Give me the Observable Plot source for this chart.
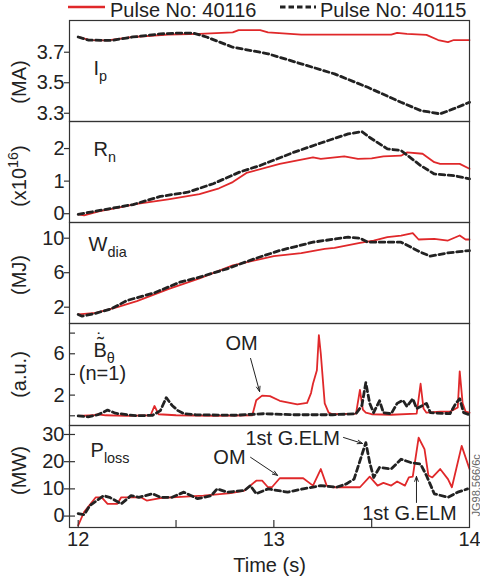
<!DOCTYPE html>
<html>
<head>
<meta charset="utf-8">
<script src="https://cdn.jsdelivr.net/npm/d3@7"></script>
<script src="https://cdn.jsdelivr.net/npm/@observablehq/plot@0.6"></script>
<style>
  body { margin: 0; background: #fff; }
  #wrap { width: 480px; font-family: "Liberation Sans", Arial, Helvetica, sans-serif; }
  #legend { position: relative; width: 480px; height: 20px; overflow: hidden; }
  #legend span { position: absolute; top: 0; font-size: 20px; line-height: 20px; color: #222; white-space: nowrap; }
  #legend svg { position: absolute; top: 0; left: 0; }
  svg.panel { display: block; overflow: visible; }
</style>
</head>
<body>
<div id="wrap">
  <div id="legend"></div>
  <div id="charts"></div>
</div>
<script>
// ---------------- data ----------------
const pulses = ["40116", "40115"];
const seriesColors = ["#e0282a", "#222222"];
const xTickLabels = [12, 13, 14];
const xMinorTicks = [12, 12.5, 13, 13.5];
const xLabel = "Time (s)";

// Plasma current Ip (MA)
const ip40116 = [[12.0,3.80],[12.06,3.78],[12.15,3.778],[12.28,3.80],[12.46,3.815],[12.62,3.82],[12.79,3.83],[12.82,3.845],[12.93,3.845],[12.97,3.83],[13.14,3.815],[13.60,3.815],[13.63,3.827],[13.68,3.82],[13.78,3.814],[13.84,3.78],[13.89,3.766],[13.92,3.78],[14.0,3.78]];
const ip40115 = [[12.0,3.80],[12.05,3.78],[12.17,3.777],[12.28,3.80],[12.42,3.82],[12.5,3.825],[12.59,3.825],[12.66,3.798],[12.79,3.733],[12.97,3.69],[13.14,3.624],[13.31,3.558],[13.48,3.47],[13.65,3.372],[13.75,3.318],[13.85,3.296],[13.92,3.33],[14.0,3.372]];
const ipTicks = [3.3, 3.5, 3.7];

// Neutron rate Rn (x10^16)
const rn40116 = [[12.0,-0.02],[12.03,-0.05],[12.11,0.08],[12.2,0.18],[12.3,0.3],[12.46,0.44],[12.62,0.6],[12.72,0.78],[12.79,0.97],[12.86,1.25],[13.03,1.53],[13.20,1.73],[13.24,1.68],[13.36,1.76],[13.43,1.68],[13.50,1.70],[13.56,1.76],[13.65,1.78],[13.68,1.88],[13.76,1.84],[13.82,1.58],[13.85,1.53],[13.95,1.53],[14.0,1.38]];
const rn40115 = [[12.0,-0.02],[12.11,0.1],[12.28,0.28],[12.42,0.53],[12.56,0.66],[12.69,0.92],[12.83,1.29],[12.93,1.48],[13.10,1.88],[13.24,2.17],[13.38,2.45],[13.45,2.52],[13.49,2.34],[13.58,1.99],[13.65,1.94],[13.75,1.48],[13.82,1.22],[13.92,1.17],[14.0,1.07]];
const rnTicks = [0, 1, 2];

// Diamagnetic energy Wdia (MJ)
const w40116 = [[12.0,1.16],[12.09,1.35],[12.2,2.0],[12.3,2.7],[12.46,4.1],[12.62,5.35],[12.79,6.84],[13.0,7.92],[13.14,8.27],[13.26,8.77],[13.31,8.88],[13.44,9.46],[13.51,9.73],[13.58,10.12],[13.65,10.31],[13.71,10.58],[13.74,9.85],[13.82,9.92],[13.89,9.73],[13.95,10.31],[13.98,9.85],[14.0,9.85]];
const w40115 = [[12.0,1.16],[12.02,0.96],[12.08,1.24],[12.17,1.82],[12.25,2.78],[12.39,3.67],[12.52,4.9],[12.62,5.48],[12.76,6.45],[12.90,7.61],[13.03,8.57],[13.20,9.54],[13.38,10.12],[13.44,10.0],[13.48,9.54],[13.65,9.54],[13.75,8.38],[13.80,7.91],[13.89,8.3],[14.0,8.57]];
const wTicks = [2, 6, 10];

// n=1 magnetic signal (a.u.)
const b40116 = [[12.0,0.0],[12.08,0.05],[12.1,0.15],[12.14,0.05],[12.25,0.0],[12.37,0.05],[12.39,0.95],[12.41,0.15],[12.5,0.05],[12.7,0.0],[12.89,0.05],[12.91,1.5],[12.94,1.95],[12.98,1.9],[13.03,1.45],[13.12,1.1],[13.17,1.25],[13.19,2.2],[13.20,3.1],[13.22,4.4],[13.23,7.8],[13.24,6.0],[13.26,1.2],[13.28,0.3],[13.30,0.15],[13.42,0.2],[13.44,2.5],[13.455,0.6],[13.47,0.3],[13.5,0.15],[13.6,0.1],[13.73,0.2],[13.75,3.1],[13.765,0.7],[13.78,0.3],[13.85,0.4],[13.9,0.4],[13.94,0.8],[13.95,4.3],[13.965,1.2],[13.98,0.4],[14.0,0.3]];
const b40115 = [[12.0,0.0],[12.05,-0.1],[12.1,0.1],[12.15,0.55],[12.19,0.25],[12.25,0.1],[12.3,0.0],[12.38,0.05],[12.42,0.5],[12.45,1.75],[12.48,1.0],[12.51,0.5],[12.54,0.2],[12.6,0.1],[12.8,0.05],[12.95,0.2],[13.1,0.1],[13.3,0.1],[13.42,0.2],[13.45,1.0],[13.47,3.2],[13.49,1.2],[13.51,0.3],[13.54,1.45],[13.56,0.3],[13.6,0.2],[13.63,1.2],[13.66,1.5],[13.68,0.9],[13.71,1.65],[13.73,0.7],[13.78,1.2],[13.8,0.3],[13.9,0.2],[13.93,1.2],[13.95,1.65],[13.97,0.3],[14.0,0.1]];
const bTicks = [2, 6];
const bMinorTicks = [0, 4, 8];

// Loss power Ploss (MW)
const pl40116 = [[12.0,-3.4],[12.03,1.5],[12.09,6.9],[12.12,6.9],[12.15,4.5],[12.2,4.5],[12.22,6.9],[12.32,6.9],[12.35,5.7],[12.42,6.6],[12.48,6.9],[12.64,7.5],[12.78,8.4],[12.85,9.4],[12.91,13.0],[12.94,13.0],[12.97,10.6],[12.99,10.6],[13.03,13.9],[13.15,13.9],[13.20,11.2],[13.24,17.3],[13.27,11.2],[13.30,10.6],[13.44,10.6],[13.49,14.5],[13.53,11.2],[13.56,12.2],[13.60,11.2],[13.63,12.7],[13.67,11.2],[13.69,14.2],[13.71,14.5],[13.74,28.8],[13.77,24.6],[13.79,14.9],[13.81,14.2],[13.85,17.3],[13.89,13.6],[13.91,10.6],[13.96,25.8],[14.0,17.3]];
const pl40115 = [[12.0,0.9],[12.03,0.5],[12.06,3.9],[12.13,7.5],[12.16,6.9],[12.22,4.5],[12.27,7.5],[12.31,6.9],[12.38,8.2],[12.42,6.9],[12.48,6.9],[12.54,8.8],[12.61,6.4],[12.68,7.5],[12.71,10.0],[12.76,8.8],[12.85,9.4],[12.88,11.2],[12.91,8.2],[12.97,10.0],[13.07,8.8],[13.15,10.0],[13.24,11.2],[13.32,10.6],[13.37,11.8],[13.41,13.6],[13.44,20.3],[13.47,27.0],[13.49,19.7],[13.51,14.2],[13.54,17.9],[13.60,17.3],[13.65,20.9],[13.70,19.7],[13.75,19.1],[13.78,14.9],[13.82,8.2],[13.89,6.9],[13.94,8.8],[13.99,10.0]];
const plTicks = [0, 10, 20, 30];

// panel titles (text, t, value) and unit labels
const panelNames = ["I_{p}", "R_{n}", "W_{dia}", "B_{θ}", "P_{loss}"];
const panelNamePos = [[12.078, 3.596], [12.078, 1.98], [12.053, 9.27], [12.078, 6.27], [12.063, 24.0]];
const unitLabels = ["(MA)", "(x10^{16})", "(MJ)", "(a.u.)", "(MW)"];
const modeLabel = "(n=1)";
const modeLabelPos = [12.124, 4.09];

// annotations: [text, tText, vText, t1, v1, t2, v2]
const annB = [["OM", 12.835, 7.0, 12.881, 5.55, 12.927, 2.35]];
const annP = [
  ["1st G.ELM", 13.096, 28.6, 13.356, 28.9, 13.453, 26.7],
  ["OM", 12.773, 21.6, 12.881, 21.6, 13.019, 14.96],
  ["1st G.ELM", 13.693, 1.0, 13.729, 5.0, 13.729, 14.6]
];
const figId = "JG98.566/6c";
const figIdPos = [14.036, 11.3];

// ---------------- layout ----------------
const W = 480, ML = 69, MR = 11;
const xDomain = [11.9555, 14];
const FONT = '"Liberation Sans", Arial, Helvetica, sans-serif';
const RED = seriesColors[0], BLACK = seriesColors[1];

function rich(svg) {
  d3.select(svg).selectAll("text").each(function () {
    const s = this.textContent;
    if (!/[_^]\{/.test(s)) return;
    const parts = s.split(/([_^]\{[^}]*\})/);
    const sel = d3.select(this);
    sel.text(null);
    let shift = 0;
    for (const p of parts) {
      if (!p) continue;
      const m = p.match(/^([_^])\{([^}]*)\}$/);
      if (m) {
        const dy = m[1] === "_" ? 6 : -8;
        sel.append("tspan").attr("dy", dy - shift).attr("font-size", "0.72em").text(m[2]);
        shift = dy;
      } else {
        sel.append("tspan").attr("dy", -shift).text(p);
        shift = 0;
      }
    }
  });
}

function lines(red, black) {
  return [
    Plot.line(red, {x: d => d[0], y: d => d[1], stroke: RED, strokeWidth: 1.8}),
    Plot.line(black, {x: d => d[0], y: d => d[1], stroke: BLACK, strokeWidth: 2.8, strokeDasharray: "5.5,3.5"})
  ];
}

function panel(i, {height, yDomain, ticks, tickInL, tickInR, red, black, extra = [], bottom = false, unitDy = 0}) {
  const frameW = W - ML - MR;
  const frameH = height;
  const marks = [
    ...lines(red, black),
    Plot.axisY(ticks, {tickSize: 0, tickPadding: 5, label: null, fill: "#222"}),
    Plot.ruleY(ticks, {y: d => d, insetLeft: tickInL, insetRight: frameW - tickInR, stroke: "#333", strokeWidth: 1.2}),
    Plot.text([panelNames[i]], {x: () => panelNamePos[i][0], y: () => panelNamePos[i][1], text: d => d, textAnchor: "start", lineAnchor: "middle", fill: "#222", fontSize: 20}),
    Plot.text([unitLabels[i]], {text: d => d, frameAnchor: "left", rotate: -90, dx: -50, dy: unitDy, textAnchor: "middle", lineAnchor: "middle", fill: "#222", fontSize: 20}),
    ...extra,
    Plot.frame({stroke: "#333", strokeWidth: 1.2})
  ];
  if (bottom) {
    marks.push(
      Plot.ruleX(xMinorTicks, {x: d => d, insetTop: frameH - 7, stroke: "#333", strokeWidth: 1.2}),
      Plot.axisX(xTickLabels, {tickSize: 0, tickPadding: 4, label: null, fill: "#222", tickFormat: d => String(d)}),
      Plot.text([xLabel], {text: d => d, frameAnchor: "bottom", dy: 38, lineAnchor: "middle", fill: "#222", fontSize: 20})
    );
  }
  const svg = Plot.plot({
    width: W,
    height: height + (bottom ? 57 : 0),
    marginLeft: ML, marginRight: MR, marginTop: 0, marginBottom: bottom ? 57 : 0,
    x: {domain: xDomain, ...(bottom ? {} : {axis: null})},
    y: {domain: yDomain},
    style: {fontFamily: FONT, fontSize: "20px", background: "white", overflow: "visible"},
    marks
  });
  svg.classList.add("panel");
  rich(svg);
  document.getElementById("charts").append(svg);
}

function annotations(list) {
  return [
    Plot.text(list, {x: d => d[1], y: d => d[2], text: d => d[0], textAnchor: "middle", lineAnchor: "middle", fill: "#222", fontSize: 20}),
    Plot.arrow(list, {x1: d => d[3], y1: d => d[4], x2: d => d[5], y2: d => d[6], stroke: "#222", strokeWidth: 1, headLength: 8, headAngle: 40})
  ];
}

// legend
(function () {
  const lg = d3.select("#legend");
  const s = lg.append("svg").attr("width", W).attr("height", 20);
  s.append("line").attr("x1", 68).attr("x2", 105).attr("y1", 7).attr("y2", 7).attr("stroke", RED).attr("stroke-width", 2.6);
  s.append("line").attr("x1", 280).attr("x2", 316).attr("y1", 7).attr("y2", 7).attr("stroke", BLACK).attr("stroke-width", 2.8).attr("stroke-dasharray", "5.5,3");
  lg.append("span").style("left", "110px").text("Pulse No: " + pulses[0]);
  lg.append("span").style("left", "320px").text("Pulse No: " + pulses[1]);
})();

panel(0, {height: 101, yDomain: [3.246, 3.908], ticks: ipTicks, tickInL: -5, tickInR: 0, red: ip40116, black: ip40115, unitDy: 11});
panel(1, {height: 101, yDomain: [-0.27, 2.83], ticks: rnTicks, tickInL: -5, tickInR: 0, red: rn40116, black: rn40115, unitDy: 4});
panel(2, {height: 101, yDomain: [0.11, 11.82], ticks: wTicks, tickInL: -5, tickInR: 0, red: w40116, black: w40115, unitDy: 2});
panel(3, {height: 102, yDomain: [-0.94, 8.93], ticks: bTicks, tickInL: 0, tickInR: 6, red: b40116, black: b40115, unitDy: 0,
  extra: [
    Plot.ruleY(bMinorTicks, {y: d => d, insetLeft: 0, insetRight: 400 - 6, stroke: "#333", strokeWidth: 1.2}),
    Plot.text(["\u02DC"], {x: () => panelNamePos[3][0], y: () => panelNamePos[3][1], text: d => d, dx: 7, dy: -6, textAnchor: "middle", lineAnchor: "middle", fill: "#222", fontSize: 20}),
    Plot.text(["\u02D9"], {x: () => panelNamePos[3][0], y: () => panelNamePos[3][1], text: d => d, dx: 6, dy: -11, textAnchor: "middle", lineAnchor: "middle", fill: "#222", fontSize: 18}),
    Plot.text([modeLabel], {x: () => modeLabelPos[0], y: () => modeLabelPos[1], text: d => d, textAnchor: "middle", lineAnchor: "middle", fill: "#222", fontSize: 20}),
    ...annotations(annB)
  ]});
panel(4, {height: 102, yDomain: [-4.2, 33.3], ticks: plTicks, tickInL: -5, tickInR: 6, red: pl40116, black: pl40115, unitDy: -6, bottom: true,
  extra: [
    ...annotations(annP),
    Plot.text([figId], {x: () => figIdPos[0], y: () => figIdPos[1], text: d => d, rotate: -90, textAnchor: "middle", lineAnchor: "middle", fill: "#666", fontSize: 11})
  ]});
</script>
</body>
</html>
